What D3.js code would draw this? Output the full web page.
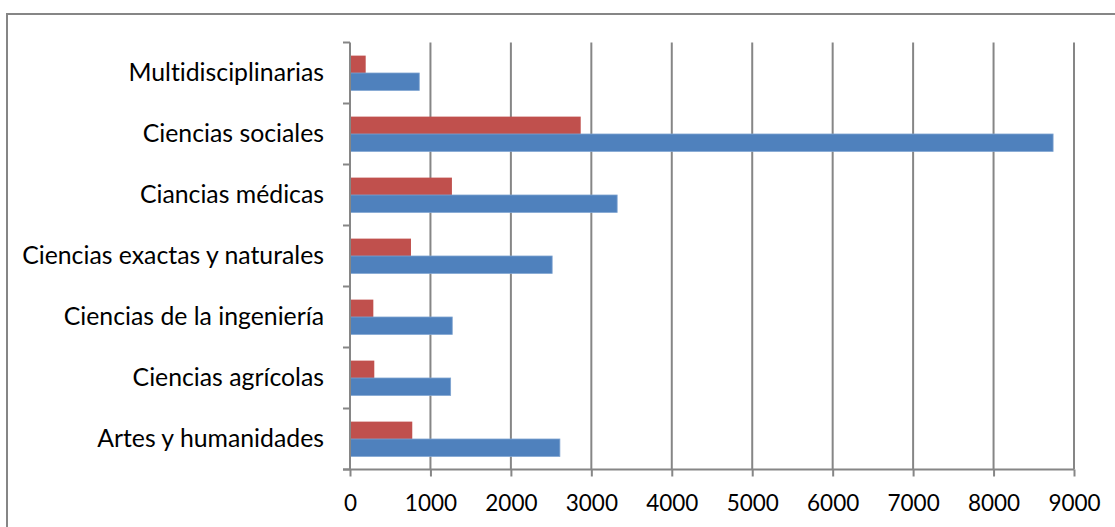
<!DOCTYPE html>
<html>
<head>
<meta charset="utf-8">
<script src="https://cdn.jsdelivr.net/npm/d3@7/dist/d3.min.js"></script>
<style>
  html, body { margin: 0; padding: 0; background: #fff; }
  svg { display: block; }
  text { font-variant-ligatures: none; }
</style>
</head>
<body>
<svg id="chart" width="1115" height="527"></svg>
<script>
// Áreas de conocimiento, de arriba hacia abajo
const categories = [
  "Multidisciplinarias",
  "Ciencias sociales",
  "Ciancias médicas",
  "Ciencias exactas y naturales",
  "Ciencias de la ingeniería",
  "Ciencias agrícolas",
  "Artes y humanidades"
];
// Serie azul (barra inferior de cada grupo)
const serieAzul = [861, 8740, 3321, 2513, 1271, 1251, 2609];
// Serie roja (barra superior de cada grupo)
const serieRoja = [195, 2868, 1267, 758, 290, 302, 774];
const xTicks = [0, 1000, 2000, 3000, 4000, 5000, 6000, 7000, 8000, 9000];

const svg = d3.select("#chart");
const gridColor = "#868686";
const font = "Lato, 'Open Sans', sans-serif";

// Marco del área del gráfico
svg.append("rect")
  .attr("x", 7).attr("y", 14)
  .attr("width", 1140).attr("height", 560)
  .attr("fill", "none")
  .attr("stroke", gridColor)
  .attr("stroke-width", 2);

const plotLeft = 350, plotRight = 1074, plotTop = 42.5, plotBottom = 469.5;

const x = d3.scaleLinear().domain([0, 9000]).range([plotLeft, plotRight]);
const y = d3.scaleBand().domain(categories).range([plotTop, plotBottom])
  .paddingInner(0.43).paddingOuter(0.215);
const sub = d3.scaleBand().domain(["roja", "azul"]).range([0, y.bandwidth()]);

// Líneas de división verticales
svg.append("g").selectAll("line")
  .data(xTicks.slice(1))
  .join("line")
  .attr("x1", d => x(d)).attr("x2", d => x(d))
  .attr("y1", plotTop).attr("y2", plotBottom)
  .attr("stroke", gridColor).attr("stroke-width", 2);

// Barras
const rows = categories.map((c, i) => ({ c, roja: serieRoja[i], azul: serieAzul[i] }));
const groups = svg.append("g").selectAll("g")
  .data(rows)
  .join("g")
  .attr("transform", d => `translate(0,${y(d.c)})`);

groups.append("rect")
  .attr("x", x(0))
  .attr("y", sub("roja"))
  .attr("width", d => x(d.roja) - x(0))
  .attr("height", sub.bandwidth())
  .attr("fill", "#C0504D");

groups.append("rect")
  .attr("x", x(0))
  .attr("y", sub("azul"))
  .attr("width", d => x(d.azul) - x(0))
  .attr("height", sub.bandwidth())
  .attr("fill", "#4F81BD")
  .attr("stroke", "#7EA3D0")
  .attr("stroke-width", 0.8);

// Eje horizontal
const xAxis = d3.axisBottom(x).tickValues(xTicks).tickSize(7).tickPadding(19)
  .tickFormat(d3.format("d"));
const gx = svg.append("g")
  .attr("transform", `translate(0,${plotBottom})`)
  .call(xAxis);
gx.select(".domain").remove();
gx.append("line")
  .attr("x1", plotLeft - 7).attr("x2", plotRight)
  .attr("stroke", gridColor).attr("stroke-width", 2);
gx.selectAll(".tick line").attr("stroke", gridColor).attr("stroke-width", 2);
gx.selectAll(".tick text")
  .attr("fill", "#000")
  .style("font-family", font)
  .style("font-size", "22.5px");

// Eje vertical con marcas entre categorías
const boundaries = d3.range(categories.length + 1).map(i => plotTop + i * y.step());
const gy = svg.append("g");
gy.append("line")
  .attr("x1", plotLeft).attr("x2", plotLeft)
  .attr("y1", plotTop).attr("y2", plotBottom)
  .attr("stroke", gridColor).attr("stroke-width", 2);
gy.selectAll("line.t")
  .data(boundaries)
  .join("line")
  .attr("class", "t")
  .attr("x1", plotLeft - 7).attr("x2", plotLeft)
  .attr("y1", d => d).attr("y2", d => d)
  .attr("stroke", gridColor).attr("stroke-width", 2);

// Rótulos de categoría
svg.append("g").selectAll("text")
  .data(categories)
  .join("text")
  .attr("x", 324)
  .attr("y", d => y(d) + y.bandwidth() / 2)
  .attr("dy", "0.33em")
  .attr("text-anchor", "end")
  .attr("fill", "#000")
  .style("font-family", font)
  .style("font-size", "24.8px")
  .text(d => d);
</script>
</body>
</html>
